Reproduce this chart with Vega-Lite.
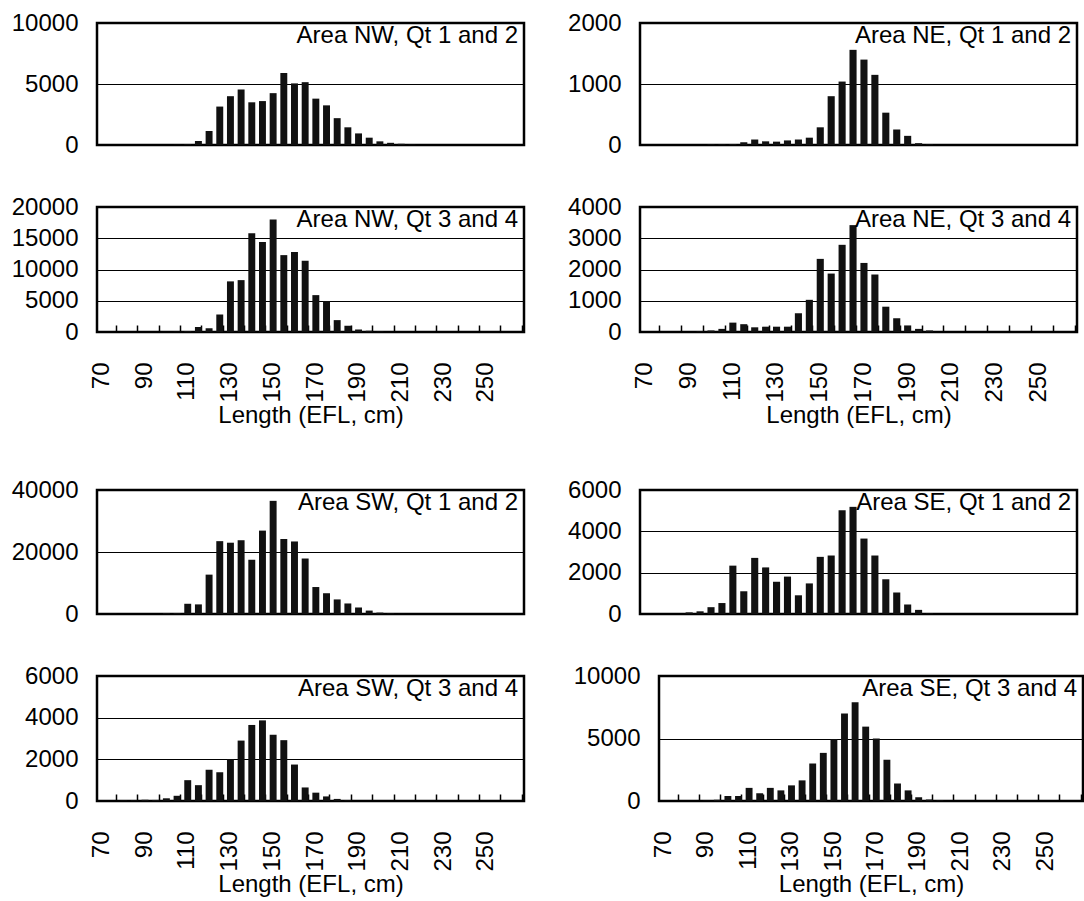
{
"$schema": "https://vega.github.io/schema/vega-lite/v6.json",
"padding": {"left": 9, "top": 9, "right": 0, "bottom": 0},
"background": "white",
"data": {"values": [
{"p":"NW12","L":105,"n":20},{"p":"NW12","L":110,"n":60},{"p":"NW12","L":115,"n":330},{"p":"NW12","L":120,"n":1150},{"p":"NW12","L":125,"n":3150},{"p":"NW12","L":130,"n":4000},{"p":"NW12","L":135,"n":4550},{"p":"NW12","L":140,"n":3500},{"p":"NW12","L":145,"n":3600},{"p":"NW12","L":150,"n":4250},{"p":"NW12","L":155,"n":5900},{"p":"NW12","L":160,"n":5050},{"p":"NW12","L":165,"n":5150},{"p":"NW12","L":170,"n":3800},{"p":"NW12","L":175,"n":3250},{"p":"NW12","L":180,"n":2200},{"p":"NW12","L":185,"n":1450},{"p":"NW12","L":190,"n":950},{"p":"NW12","L":195,"n":600},{"p":"NW12","L":200,"n":300},{"p":"NW12","L":205,"n":180},{"p":"NW12","L":210,"n":100},{"p":"NW12","L":215,"n":30},
{"p":"NW34","L":100,"n":20},{"p":"NW34","L":105,"n":50},{"p":"NW34","L":110,"n":150},{"p":"NW34","L":115,"n":800},{"p":"NW34","L":120,"n":600},{"p":"NW34","L":125,"n":2800},{"p":"NW34","L":130,"n":8100},{"p":"NW34","L":135,"n":8300},{"p":"NW34","L":140,"n":15800},{"p":"NW34","L":145,"n":14400},{"p":"NW34","L":150,"n":18000},{"p":"NW34","L":155,"n":12300},{"p":"NW34","L":160,"n":12800},{"p":"NW34","L":165,"n":11400},{"p":"NW34","L":170,"n":5900},{"p":"NW34","L":175,"n":4950},{"p":"NW34","L":180,"n":1900},{"p":"NW34","L":185,"n":1000},{"p":"NW34","L":190,"n":400},{"p":"NW34","L":195,"n":200},{"p":"NW34","L":200,"n":80},
{"p":"NE12","L":100,"n":10},{"p":"NE12","L":105,"n":10},{"p":"NE12","L":110,"n":15},{"p":"NE12","L":115,"n":45},{"p":"NE12","L":120,"n":90},{"p":"NE12","L":125,"n":60},{"p":"NE12","L":130,"n":55},{"p":"NE12","L":135,"n":75},{"p":"NE12","L":140,"n":90},{"p":"NE12","L":145,"n":120},{"p":"NE12","L":150,"n":290},{"p":"NE12","L":155,"n":800},{"p":"NE12","L":160,"n":1040},{"p":"NE12","L":165,"n":1560},{"p":"NE12","L":170,"n":1400},{"p":"NE12","L":175,"n":1150},{"p":"NE12","L":180,"n":530},{"p":"NE12","L":185,"n":255},{"p":"NE12","L":190,"n":150},{"p":"NE12","L":195,"n":30},{"p":"NE12","L":200,"n":10},
{"p":"NE34","L":95,"n":20},{"p":"NE34","L":100,"n":50},{"p":"NE34","L":105,"n":100},{"p":"NE34","L":110,"n":300},{"p":"NE34","L":115,"n":250},{"p":"NE34","L":120,"n":150},{"p":"NE34","L":125,"n":170},{"p":"NE34","L":130,"n":170},{"p":"NE34","L":135,"n":170},{"p":"NE34","L":140,"n":600},{"p":"NE34","L":145,"n":1030},{"p":"NE34","L":150,"n":2340},{"p":"NE34","L":155,"n":1870},{"p":"NE34","L":160,"n":2790},{"p":"NE34","L":165,"n":3420},{"p":"NE34","L":170,"n":2210},{"p":"NE34","L":175,"n":1840},{"p":"NE34","L":180,"n":810},{"p":"NE34","L":185,"n":440},{"p":"NE34","L":190,"n":210},{"p":"NE34","L":195,"n":100},{"p":"NE34","L":200,"n":50},
{"p":"SW12","L":75,"n":80},{"p":"SW12","L":100,"n":300},{"p":"SW12","L":105,"n":300},{"p":"SW12","L":110,"n":3300},{"p":"SW12","L":115,"n":3100},{"p":"SW12","L":120,"n":12700},{"p":"SW12","L":125,"n":23500},{"p":"SW12","L":130,"n":23000},{"p":"SW12","L":135,"n":23800},{"p":"SW12","L":140,"n":17500},{"p":"SW12","L":145,"n":26900},{"p":"SW12","L":150,"n":36500},{"p":"SW12","L":155,"n":24200},{"p":"SW12","L":160,"n":23400},{"p":"SW12","L":165,"n":17900},{"p":"SW12","L":170,"n":8700},{"p":"SW12","L":175,"n":6700},{"p":"SW12","L":180,"n":4700},{"p":"SW12","L":185,"n":3400},{"p":"SW12","L":190,"n":2100},{"p":"SW12","L":195,"n":1100},{"p":"SW12","L":200,"n":450},{"p":"SW12","L":205,"n":200},{"p":"SW12","L":210,"n":50},
{"p":"SE12","L":90,"n":80},{"p":"SE12","L":95,"n":130},{"p":"SE12","L":100,"n":330},{"p":"SE12","L":105,"n":530},{"p":"SE12","L":110,"n":2340},{"p":"SE12","L":115,"n":1100},{"p":"SE12","L":120,"n":2715},{"p":"SE12","L":125,"n":2255},{"p":"SE12","L":130,"n":1560},{"p":"SE12","L":135,"n":1810},{"p":"SE12","L":140,"n":905},{"p":"SE12","L":145,"n":1480},{"p":"SE12","L":150,"n":2765},{"p":"SE12","L":155,"n":2830},{"p":"SE12","L":160,"n":5020},{"p":"SE12","L":165,"n":5185},{"p":"SE12","L":170,"n":3650},{"p":"SE12","L":175,"n":2830},{"p":"SE12","L":180,"n":1680},{"p":"SE12","L":185,"n":1040},{"p":"SE12","L":190,"n":460},{"p":"SE12","L":195,"n":200},{"p":"SE12","L":200,"n":30},
{"p":"SW34","L":80,"n":20},{"p":"SW34","L":85,"n":30},{"p":"SW34","L":90,"n":60},{"p":"SW34","L":95,"n":50},{"p":"SW34","L":100,"n":130},{"p":"SW34","L":105,"n":250},{"p":"SW34","L":110,"n":1000},{"p":"SW34","L":115,"n":760},{"p":"SW34","L":120,"n":1500},{"p":"SW34","L":125,"n":1380},{"p":"SW34","L":130,"n":2000},{"p":"SW34","L":135,"n":2900},{"p":"SW34","L":140,"n":3650},{"p":"SW34","L":145,"n":3870},{"p":"SW34","L":150,"n":3180},{"p":"SW34","L":155,"n":2920},{"p":"SW34","L":160,"n":1750},{"p":"SW34","L":165,"n":650},{"p":"SW34","L":170,"n":400},{"p":"SW34","L":175,"n":220},{"p":"SW34","L":180,"n":100},{"p":"SW34","L":185,"n":30},
{"p":"SE34","L":90,"n":30},{"p":"SE34","L":95,"n":100},{"p":"SE34","L":100,"n":400},{"p":"SE34","L":105,"n":400},{"p":"SE34","L":110,"n":1050},{"p":"SE34","L":115,"n":620},{"p":"SE34","L":120,"n":1050},{"p":"SE34","L":125,"n":850},{"p":"SE34","L":130,"n":1250},{"p":"SE34","L":135,"n":1650},{"p":"SE34","L":140,"n":3000},{"p":"SE34","L":145,"n":3850},{"p":"SE34","L":150,"n":4950},{"p":"SE34","L":155,"n":7000},{"p":"SE34","L":160,"n":7900},{"p":"SE34","L":165,"n":5950},{"p":"SE34","L":170,"n":5000},{"p":"SE34","L":175,"n":3300},{"p":"SE34","L":180,"n":1400},{"p":"SE34","L":185,"n":850},{"p":"SE34","L":190,"n":300},{"p":"SE34","L":195,"n":120},{"p":"SE34","L":200,"n":50}
]},
"config": {
  "font": "Liberation Sans",
  "view": {"stroke": "#000", "strokeWidth": 2.5},
  "bar": {"color": "#111"},
  "axis": {"labelFont": "Liberation Sans", "labelFontSize": 24, "labelColor": "#000", "titleFont": "Liberation Sans", "titleFontSize": 24, "titleFontWeight": "normal", "titleColor": "#000", "domain": false},
  "axisY": {"ticks": false, "tickSize": 0, "labelPadding": 19, "grid": true, "gridColor": "#000", "gridOpacity": 1, "gridWidth": 1.2, "title": null, "format": "d"},
  "axisX": {"grid": false, "ticks": true, "tickColor": "#000", "tickSize": -7, "tickWidth": 1.5, "labelAngle": -90, "labelPadding": 37, "bandPosition": 1, "labelOffset": -11, "titlePadding": 1},
  "title": {"anchor": "end", "offset": -37, "baseline": "alphabetic", "fontSize": 24, "fontWeight": "normal", "font": "Liberation Sans", "color": "#000", "dx": -6, "frame": "group"}
},
"spacing": 47,
"vconcat": [
 {"spacing": 34, "vconcat": [
  {"spacing": 40, "hconcat": [
   {"width": 427, "height": 122, "title": "Area NW, Qt 1 and 2",
    "transform": [{"filter": {"field": "p", "equal": "NW12"}}],
    "mark": "bar",
    "encoding": {
     "x": {"field": "L", "type": "ordinal", "scale": {"domain": [70,75,80,85,90,95,100,105,110,115,120,125,130,135,140,145,150,155,160,165,170,175,180,185,190,195,200,205,210,215,220,225,230,235,240,245,250,255,260,265], "paddingInner": 0.35, "paddingOuter": 0.175}, "axis": null},
     "y": {"field": "n", "type": "quantitative", "scale": {"domain": [0, 10000], "nice": false}, "axis": {"values": [0, 5000, 10000], "minExtent": 86}}
    }},
   {"width": 437, "height": 122, "title": "Area NE, Qt 1 and 2",
    "transform": [{"filter": {"field": "p", "equal": "NE12"}}],
    "mark": "bar",
    "encoding": {
     "x": {"field": "L", "type": "ordinal", "scale": {"domain": [70,75,80,85,90,95,100,105,110,115,120,125,130,135,140,145,150,155,160,165,170,175,180,185,190,195,200,205,210,215,220,225,230,235,240,245,250,255,260,265], "paddingInner": 0.35, "paddingOuter": 0.175}, "axis": null},
     "y": {"field": "n", "type": "quantitative", "scale": {"domain": [0, 2000], "nice": false}, "axis": {"values": [0, 1000, 2000]}}
    }}
  ]},
  {"spacing": 40, "hconcat": [
   {"width": 427, "height": 125, "title": "Area NW, Qt 3 and 4",
    "transform": [{"filter": {"field": "p", "equal": "NW34"}}],
    "mark": "bar",
    "encoding": {
     "x": {"field": "L", "type": "ordinal", "title": "Length (EFL, cm)", "scale": {"domain": [70,75,80,85,90,95,100,105,110,115,120,125,130,135,140,145,150,155,160,165,170,175,180,185,190,195,200,205,210,215,220,225,230,235,240,245,250,255,260,265], "paddingInner": 0.35, "paddingOuter": 0.175}, "axis": {"values": [75,85,95,105,115,125,135,145,155,165,175,185,195,205,215,225,235,245,255,265], "labelExpr": "(datum.value - 75) % 20 === 0 ? '' + (datum.value - 5) : ''"}},
     "y": {"field": "n", "type": "quantitative", "scale": {"domain": [0, 20000], "nice": false}, "axis": {"values": [0, 5000, 10000, 15000, 20000], "minExtent": 86}}
    }},
   {"width": 437, "height": 125, "title": "Area NE, Qt 3 and 4",
    "transform": [{"filter": {"field": "p", "equal": "NE34"}}],
    "mark": "bar",
    "encoding": {
     "x": {"field": "L", "type": "ordinal", "title": "Length (EFL, cm)", "scale": {"domain": [70,75,80,85,90,95,100,105,110,115,120,125,130,135,140,145,150,155,160,165,170,175,180,185,190,195,200,205,210,215,220,225,230,235,240,245,250,255,260,265], "paddingInner": 0.35, "paddingOuter": 0.175}, "axis": {"values": [75,85,95,105,115,125,135,145,155,165,175,185,195,205,215,225,235,245,255,265], "labelExpr": "(datum.value - 75) % 20 === 0 ? '' + (datum.value - 5) : ''"}},
     "y": {"field": "n", "type": "quantitative", "scale": {"domain": [0, 4000], "nice": false}, "axis": {"values": [0, 1000, 2000, 3000, 4000]}}
    }}
  ]}
 ]},
 {"spacing": 34, "vconcat": [
  {"spacing": 40, "hconcat": [
   {"width": 427, "height": 124, "title": "Area SW, Qt 1 and 2",
    "transform": [{"filter": {"field": "p", "equal": "SW12"}}],
    "mark": "bar",
    "encoding": {
     "x": {"field": "L", "type": "ordinal", "scale": {"domain": [70,75,80,85,90,95,100,105,110,115,120,125,130,135,140,145,150,155,160,165,170,175,180,185,190,195,200,205,210,215,220,225,230,235,240,245,250,255,260,265], "paddingInner": 0.35, "paddingOuter": 0.175}, "axis": null},
     "y": {"field": "n", "type": "quantitative", "scale": {"domain": [0, 40000], "nice": false}, "axis": {"values": [0, 20000, 40000], "minExtent": 86}}
    }},
   {"width": 437, "height": 124, "title": "Area SE, Qt 1 and 2",
    "transform": [{"filter": {"field": "p", "equal": "SE12"}}],
    "mark": "bar",
    "encoding": {
     "x": {"field": "L", "type": "ordinal", "scale": {"domain": [70,75,80,85,90,95,100,105,110,115,120,125,130,135,140,145,150,155,160,165,170,175,180,185,190,195,200,205,210,215,220,225,230,235,240,245,250,255,260,265], "paddingInner": 0.35, "paddingOuter": 0.175}, "axis": null},
     "y": {"field": "n", "type": "quantitative", "scale": {"domain": [0, 6000], "nice": false}, "axis": {"values": [0, 2000, 4000, 6000]}}
    }}
  ]},
  {"spacing": 40, "hconcat": [
   {"width": 427, "height": 125, "title": "Area SW, Qt 3 and 4",
    "transform": [{"filter": {"field": "p", "equal": "SW34"}}],
    "mark": "bar",
    "encoding": {
     "x": {"field": "L", "type": "ordinal", "title": "Length (EFL, cm)", "scale": {"domain": [70,75,80,85,90,95,100,105,110,115,120,125,130,135,140,145,150,155,160,165,170,175,180,185,190,195,200,205,210,215,220,225,230,235,240,245,250,255,260,265], "paddingInner": 0.35, "paddingOuter": 0.175}, "axis": {"values": [75,85,95,105,115,125,135,145,155,165,175,185,195,205,215,225,235,245,255,265], "labelExpr": "(datum.value - 75) % 20 === 0 ? '' + (datum.value - 5) : ''"}},
     "y": {"field": "n", "type": "quantitative", "scale": {"domain": [0, 6000], "nice": false}, "axis": {"values": [0, 2000, 4000, 6000], "minExtent": 86}}
    }},
   {"width": 424, "height": 125, "title": "Area SE, Qt 3 and 4",
    "transform": [{"filter": {"field": "p", "equal": "SE34"}}],
    "mark": "bar",
    "encoding": {
     "x": {"field": "L", "type": "ordinal", "title": "Length (EFL, cm)", "scale": {"domain": [70,75,80,85,90,95,100,105,110,115,120,125,130,135,140,145,150,155,160,165,170,175,180,185,190,195,200,205,210,215,220,225,230,235,240,245,250,255,260,265], "paddingInner": 0.35, "paddingOuter": 0.175}, "axis": {"values": [75,85,95,105,115,125,135,145,155,165,175,185,195,205,215,225,235,245,255,265], "labelExpr": "(datum.value - 75) % 20 === 0 ? '' + (datum.value - 5) : ''"}},
     "y": {"field": "n", "type": "quantitative", "scale": {"domain": [0, 10000], "nice": false}, "axis": {"values": [0, 5000, 10000], "minExtent": 91}}
    }}
  ]}
 ]}
]
}
